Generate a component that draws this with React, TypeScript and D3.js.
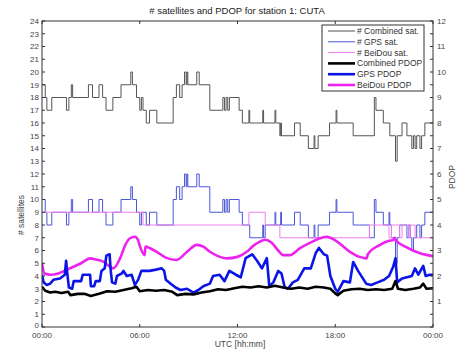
import * as d3 from "d3";

// # satellites: step series as [hour, count] where each value starts
const combinedSat: [number, number][] = [
  [0, 19], [0.2, 18], [0.3, 17], [0.6, 18], [1.5, 17], [1.65, 18], [1.8, 19], [1.88, 18],
  [2.85, 19], [3.1, 18], [3.5, 19], [3.72, 18], [3.93, 17], [4.35, 18], [4.85, 19], [5.45, 20],
  [5.55, 19], [5.8, 18], [6.0, 17], [6.1, 18], [6.2, 17], [6.4, 16], [6.6, 17], [7.05, 16],
  [8.05, 18], [8.25, 19], [8.45, 18], [8.6, 19], [8.75, 20], [8.85, 19], [8.9, 20], [8.95, 19],
  [9.5, 20], [9.65, 19], [10.3, 17], [11.1, 18], [11.2, 17], [11.3, 18], [11.4, 17], [11.5, 18],
  [12.1, 17], [12.3, 16], [12.7, 17], [12.75, 16], [13.55, 17], [13.6, 16], [14.3, 17], [14.35, 16],
  [14.6, 15], [14.65, 16], [14.7, 15], [15.5, 16], [15.85, 15], [16.35, 14], [16.7, 15], [16.75, 14],
  [16.95, 15], [17.65, 16], [18.05, 17], [18.1, 16], [19.1, 15], [20.4, 18], [20.5, 17], [20.95, 16],
  [21.35, 15], [21.7, 13], [21.8, 15], [22.1, 16], [22.4, 15], [22.7, 14], [22.8, 15], [22.9, 14],
  [23.0, 15], [23.2, 14], [23.3, 15], [23.5, 16],
];

const gpsSat: [number, number][] = [
  [0, 10], [0.2, 9], [0.3, 8], [0.6, 9], [1.5, 8], [1.65, 9], [1.8, 10], [1.88, 9],
  [2.85, 10], [3.1, 9], [3.5, 10], [3.72, 9], [3.93, 8], [4.35, 9], [4.85, 10], [5.45, 11],
  [5.55, 10], [5.8, 9], [6.0, 8], [6.1, 9], [6.4, 8], [6.6, 9], [7.05, 8],
  [8.05, 10], [8.25, 11], [8.45, 10], [8.6, 11], [8.75, 12], [8.85, 11], [8.9, 12], [8.95, 11],
  [9.5, 12], [9.65, 11], [10.3, 9], [11.1, 10], [11.2, 9], [11.3, 10], [11.4, 9], [11.5, 10],
  [12.1, 9], [12.3, 8], [12.75, 7], [13.55, 8], [13.6, 7], [13.7, 8], [14.3, 9], [14.35, 8],
  [14.65, 9], [14.7, 8], [15.5, 9], [15.85, 8], [16.35, 7], [16.7, 8], [16.75, 7],
  [16.95, 8], [17.65, 9], [18.05, 10], [18.1, 9], [19.1, 8], [20.1, 7], [20.4, 10], [20.5, 9],
  [20.95, 8], [21.3, 9], [21.35, 8], [21.45, 7], [21.7, 5], [21.8, 7], [21.95, 8], [22.4, 7],
  [22.5, 8], [22.6, 7], [22.7, 6], [22.8, 7], [23.0, 8], [23.2, 7], [23.3, 8], [23.5, 9],
];

const beidouSat: [number, number][] = [
  [0, 9], [6.2, 8], [12.7, 9], [13.7, 8], [14.6, 7], [20.1, 8], [21.3, 7], [21.45, 8],
  [21.95, 7], [22.1, 8], [22.5, 7], [22.6, 8], [22.9, 7],
];

// PDOP series as [hour, pdop]
const combinedPdop: [number, number][] = [
  [0, 1.58], [0.2, 1.42], [0.5, 1.35], [0.8, 1.38], [1.2, 1.33], [1.6, 1.38], [1.75, 1.25],
  [2.2, 1.3], [2.6, 1.3], [3.0, 1.22], [3.5, 1.3], [4.0, 1.4], [4.5, 1.38], [5.0, 1.45],
  [5.5, 1.52], [5.8, 1.58], [6.0, 1.4], [6.5, 1.45], [7.0, 1.42], [7.5, 1.45], [8.0, 1.38],
  [8.3, 1.25], [8.8, 1.3], [9.3, 1.28], [9.8, 1.35], [10.3, 1.4], [10.8, 1.48], [11.3, 1.45],
  [11.8, 1.52], [12.3, 1.58], [12.8, 1.55], [13.3, 1.6], [13.8, 1.55], [14.3, 1.62], [14.8, 1.55],
  [15.3, 1.5], [15.8, 1.55], [16.3, 1.5], [16.8, 1.58], [17.3, 1.55], [17.7, 1.5], [18.0, 1.32],
  [18.15, 1.25], [18.5, 1.42], [19.0, 1.48], [19.5, 1.5], [20.0, 1.45], [20.5, 1.48], [21.0, 1.45],
  [21.5, 1.5], [21.7, 1.8], [21.85, 1.5], [22.3, 1.45], [22.8, 1.5], [23.2, 1.55], [23.4, 1.7],
  [23.6, 1.5], [24, 1.52],
];

const gpsPdop: [number, number][] = [
  [0, 2.05], [0.1, 1.75], [0.3, 1.65], [0.5, 1.7], [0.7, 1.85], [1.1, 1.9], [1.4, 2.05],
  [1.48, 2.6], [1.56, 2.05], [1.65, 1.55], [1.85, 1.5], [1.95, 1.8], [2.4, 1.8], [2.5, 2.05],
  [2.95, 2.05], [3.0, 1.6], [3.2, 1.6], [3.3, 1.8], [3.55, 1.8], [3.65, 2.2], [3.85, 2.3],
  [3.95, 2.8], [4.15, 2.85], [4.22, 2.2], [4.3, 1.75], [4.5, 1.7], [4.6, 2.0], [4.9, 2.1],
  [5.0, 2.2], [5.2, 2.0], [5.5, 2.05], [5.7, 1.65], [5.9, 1.85], [6.1, 2.2], [6.6, 2.2],
  [7.0, 2.25], [7.35, 2.3], [7.5, 2.2], [7.6, 1.85], [7.9, 1.7], [8.2, 1.55], [8.5, 1.45],
  [8.9, 1.5], [9.3, 1.35], [9.6, 1.45], [9.9, 1.6], [10.3, 1.7], [10.5, 2.0], [10.9, 2.05],
  [11.2, 1.8], [11.5, 2.2], [11.9, 2.05], [12.2, 1.95], [12.5, 2.7], [12.9, 2.85], [13.2, 2.6],
  [13.5, 2.3], [13.8, 2.7], [13.95, 1.6], [14.2, 1.75], [14.5, 2.2], [14.7, 2.1], [14.9, 1.55],
  [15.1, 1.5], [15.4, 1.75], [15.7, 1.85], [16.1, 2.3], [16.5, 2.3], [16.8, 2.9], [17.0, 3.1],
  [17.3, 2.85], [17.5, 2.8], [17.7, 2.0], [18.0, 1.5], [18.15, 1.38], [18.5, 1.8], [18.9, 1.75],
  [19.1, 2.55], [19.4, 2.2], [19.9, 1.7], [20.2, 1.65], [20.6, 1.75], [21.0, 1.85], [21.3, 2.0],
  [21.55, 2.35], [21.7, 2.7], [21.8, 1.75], [22.1, 1.9], [22.4, 1.95], [22.7, 2.0], [22.9, 2.3],
  [23.1, 2.05], [23.4, 2.4], [23.55, 2.0], [23.8, 2.05], [24, 2.05],
];

const beidouPdop: [number, number][] = [
  [0, 2.5], [0.15, 2.1], [0.5, 2.05], [1.0, 2.1], [1.7, 2.3], [2.4, 2.5], [2.95, 2.69],
  [3.3, 2.65], [3.76, 2.56], [4.1, 2.4], [4.38, 2.3], [4.79, 2.69], [5.1, 3.2], [5.4, 3.48],
  [5.71, 3.54], [5.9, 3.4], [6.02, 3.15], [6.3, 2.82], [6.35, 3.15], [6.6, 3.1], [7.04, 2.95],
  [7.6, 2.72], [8.27, 2.63], [8.9, 2.95], [9.5, 3.22], [9.9, 3.15], [10.31, 2.95], [10.8, 2.78],
  [11.34, 2.69], [12.0, 2.75], [12.57, 2.95], [13.0, 3.2], [13.38, 3.35], [13.7, 3.42],
  [14.1, 3.3], [14.5, 3.0], [14.8, 2.82], [15.2, 2.82], [15.84, 3.09], [16.6, 3.35],
  [17.48, 3.54], [18.0, 3.4], [18.9, 2.95], [19.5, 2.75], [19.93, 2.69], [20.0, 2.85],
  [20.75, 3.22], [21.3, 3.38], [21.57, 3.41], [21.65, 3.5], [21.75, 3.38], [22.3, 3.15],
  [23.2, 2.89], [24, 2.78],
];

const xTickHours = [0, 6, 12, 18, 24];
const xTickLabels = ["00:00", "06:00", "12:00", "18:00", "00:00"];
const legendLabels = [
  "# Combined sat.", "# GPS sat.", "# BeiDou sat.", "Combined PDOP", "GPS PDOP", "BeiDou PDOP",
];

const W = 463;
const H = 349;
const M = { left: 42, right: 433, top: 21, bottom: 327 };
const FONT = "'Liberation Sans', Arial, sans-serif";
const AXIS = "#333";
const TXT = "#444";

export default function App() {
  const x = d3.scaleLinear().domain([0, 24]).range([M.left, M.right]);
  const ySat = d3.scaleLinear().domain([0, 24]).range([M.bottom, M.top]);
  const yPdop = d3.scaleLinear().domain([0, 12]).range([M.bottom, M.top]);

  const stepLine = d3
    .line<[number, number]>()
    .x((d) => x(d[0]))
    .y((d) => ySat(d[1]))
    .curve(d3.curveStepAfter);
  const withEnd = (s: [number, number][]) => [...s, [24, s[s.length - 1][1]] as [number, number]];

  const smoothLine = d3
    .line<[number, number]>()
    .x((d) => x(d[0]))
    .y((d) => yPdop(d[1]))
    .curve(d3.curveMonotoneX);
  const sharpLine = d3
    .line<[number, number]>()
    .x((d) => x(d[0]))
    .y((d) => yPdop(d[1]));

  const styles = [
    { color: "#555", w: 1 },
    { color: "#4a55d8", w: 1 },
    { color: "#f07ef0", w: 1 },
    { color: "#000", w: 2.6 },
    { color: "#0a14e6", w: 2.6 },
    { color: "#ee22ee", w: 2.6 },
  ];

  const satTicks = d3.range(0, 25, 1);
  const pdopTicks = d3.range(0, 12.01, 0.5);

  const lgX = 322;
  const lgY = 25;
  const lgRow = 10.8;

  return (
    <svg
      width={W}
      height={H}
      style={{ position: "absolute", left: 0, top: 0, background: "#fff" }}
      fontFamily={FONT}
    >
      <text x={237} y={14} textAnchor="middle" fontSize={9.5} fill="#222">
        # satellites and PDOP for station 1: CUTA
      </text>

      <defs>
        <clipPath id="plot">
          <rect x={M.left} y={M.top} width={M.right - M.left} height={M.bottom - M.top} />
        </clipPath>
      </defs>
      <g clipPath="url(#plot)">
        <path d={stepLine(withEnd(combinedSat)) || ""} fill="none" stroke={styles[0].color} strokeWidth={1} />
        <path d={stepLine(withEnd(gpsSat)) || ""} fill="none" stroke={styles[1].color} strokeWidth={1} />
        <path d={stepLine(withEnd(beidouSat)) || ""} fill="none" stroke={styles[2].color} strokeWidth={1} />
        <path d={smoothLine(beidouPdop) || ""} fill="none" stroke={styles[5].color} strokeWidth={2.6} strokeLinejoin="round" />
        <path d={sharpLine(gpsPdop) || ""} fill="none" stroke={styles[4].color} strokeWidth={2.6} strokeLinejoin="round" />
        <path d={sharpLine(combinedPdop) || ""} fill="none" stroke={styles[3].color} strokeWidth={2.6} strokeLinejoin="round" />
      </g>

      {/* frame */}
      <rect
        x={M.left}
        y={M.top}
        width={M.right - M.left}
        height={M.bottom - M.top}
        fill="none"
        stroke={AXIS}
        strokeWidth={1}
      />

      {/* left axis */}
      {satTicks.map((t) => (
        <g key={"l" + t}>
          <line x1={M.left} x2={M.left + 3} y1={ySat(t)} y2={ySat(t)} stroke={AXIS} />
          <text
            x={M.left - 3}
            y={ySat(t) + (t === 0 ? 1 : 2.8)}
            textAnchor="end"
            fontSize={8}
            fill={TXT}
          >
            {t}
          </text>
        </g>
      ))}

      {/* right axis */}
      {pdopTicks.map((t) => (
        <g key={"r" + t}>
          <line x1={M.right - 3} x2={M.right} y1={yPdop(t)} y2={yPdop(t)} stroke={AXIS} />
          {Number.isInteger(t) && t > 0 && (
            <text x={M.right + 4} y={yPdop(t) + 2.8} fontSize={8} fill={TXT}>
              {t}
            </text>
          )}
        </g>
      ))}

      {/* x axis */}
      {xTickHours.map((h, i) => (
        <g key={"x" + i}>
          <line x1={x(h)} x2={x(h)} y1={M.bottom} y2={M.bottom - 3} stroke={AXIS} />
          <line x1={x(h)} x2={x(h)} y1={M.top} y2={M.top + 3} stroke={AXIS} />
          <text x={x(h)} y={M.bottom + 11} textAnchor="middle" fontSize={8} fill={TXT}>
            {xTickLabels[i]}
          </text>
        </g>
      ))}

      <text x={240} y={347} textAnchor="middle" fontSize={8.5} fill={TXT}>
        UTC [hh:mm]
      </text>
      <text
        transform={`translate(24, 215) rotate(-90)`}
        textAnchor="middle"
        fontSize={8.5}
        fill={TXT}
      >
        # satellites
      </text>
      <text
        transform={`translate(455, 177) rotate(-90)`}
        textAnchor="middle"
        fontSize={8.5}
        fill={TXT}
      >
        PDOP
      </text>

      {/* legend */}
      <rect x={lgX} y={lgY} width={102} height={66} fill="#fff" stroke={AXIS} strokeWidth={1} />
      {legendLabels.map((lab, i) => {
        const yy = lgY + 6 + i * lgRow;
        return (
          <g key={lab}>
            <line x1={lgX + 6} x2={lgX + 33} y1={yy} y2={yy} stroke={styles[i].color} strokeWidth={styles[i].w} />
            <text x={lgX + 35} y={yy + 3} fontSize={8.5} fill="#333">
              {lab}
            </text>
          </g>
        );
      })}
    </svg>
  );
}
